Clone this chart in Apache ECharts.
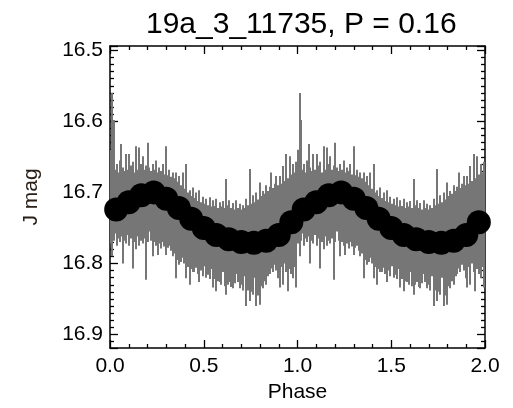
<!DOCTYPE html>
<html>
<head>
<meta charset="utf-8">
<script src="https://cdn.jsdelivr.net/npm/echarts@6/dist/echarts.min.js"></script>
<style>
html,body{margin:0;padding:0;background:#fff;}
#chart{width:513px;height:408px;}
</style>
</head>
<body>
<div id="chart"></div>
<script>
// ---- data (one folded cycle; the plot shows phase 0-1 repeated at 1-2) ----
const titleText = '19a_3_11735, P = 0.16';
const xTicks = [0.0, 0.5, 1.0, 1.5, 2.0];
const yTicks = [16.5, 16.6, 16.7, 16.8, 16.9];

// individual measurements: phase, upper end (bright) and lower end (faint) of error bar, J mag
const obsPhase = [0.004,0.012,0.019,0.027,0.036,0.044,0.052,0.059,0.068,0.077,0.085,0.093,0.103,0.111,0.12,0.129,0.139,0.147,0.157,0.165,0.174,0.182,0.192,0.201,0.21,0.219,0.228,0.237,0.246,0.254,0.263,0.272,0.281,0.29,0.299,0.308,0.317,0.326,0.335,0.344,0.353,0.362,0.37,0.379,0.388,0.397,0.406,0.415,0.424,0.433,0.441,0.45,0.459,0.468,0.477,0.486,0.495,0.504,0.513,0.522,0.531,0.54,0.548,0.557,0.566,0.575,0.584,0.593,0.602,0.611,0.62,0.628,0.637,0.646,0.655,0.664,0.673,0.682,0.691,0.7,0.709,0.718,0.727,0.736,0.744,0.753,0.762,0.771,0.78,0.789,0.798,0.806,0.815,0.824,0.834,0.843,0.852,0.86,0.869,0.878,0.887,0.896,0.905,0.914,0.922,0.931,0.94,0.949,0.958,0.967,0.976,0.985,0.994];
const obsTop = [16.640,16.560,16.598,16.668,16.660,16.672,16.655,16.632,16.665,16.670,16.646,16.668,16.646,16.662,16.657,16.672,16.635,16.668,16.637,16.660,16.649,16.668,16.662,16.630,16.665,16.670,16.660,16.668,16.655,16.672,16.665,16.670,16.660,16.675,16.635,16.676,16.668,16.678,16.672,16.680,16.672,16.685,16.677,16.690,16.672,16.695,16.660,16.700,16.697,16.705,16.693,16.708,16.700,16.712,16.697,16.714,16.706,16.716,16.709,16.718,16.707,16.720,16.711,16.719,16.709,16.722,16.714,16.720,16.712,16.722,16.681,16.718,16.711,16.722,16.715,16.724,16.711,16.722,16.716,16.724,16.718,16.722,16.709,16.718,16.667,16.716,16.704,16.714,16.700,16.710,16.686,16.705,16.698,16.702,16.690,16.698,16.692,16.672,16.694,16.688,16.677,16.690,16.677,16.688,16.663,16.684,16.646,16.680,16.649,16.675,16.660,16.672,16.657];
const obsBottom = [16.772,16.790,16.768,16.758,16.775,16.765,16.770,16.762,16.800,16.768,16.772,16.760,16.775,16.765,16.807,16.770,16.780,16.762,16.775,16.768,16.772,16.765,16.823,16.770,16.755,16.768,16.790,16.770,16.775,16.788,16.772,16.779,16.770,16.776,16.788,16.778,16.775,16.782,16.790,16.786,16.821,16.795,16.802,16.798,16.792,16.800,16.821,16.805,16.830,16.808,16.812,16.812,16.806,16.815,16.826,16.810,16.818,16.804,16.820,16.816,16.822,16.808,16.834,16.822,16.839,16.825,16.826,16.830,16.812,16.832,16.844,16.830,16.826,16.833,16.835,16.828,16.815,16.826,16.835,16.830,16.838,16.818,16.860,16.838,16.853,16.840,16.844,16.820,16.860,16.845,16.858,16.832,16.835,16.825,16.830,16.818,16.815,16.807,16.812,16.802,16.810,16.821,16.834,16.805,16.830,16.800,16.812,16.839,16.808,16.815,16.821,16.805,16.834];

// binned light curve (black dots)
const binPhase = [0.033,0.1,0.167,0.233,0.3,0.367,0.433,0.5,0.567,0.633,0.7,0.767,0.833,0.9,0.967];
const binMag = [16.724,16.714,16.704,16.700,16.709,16.722,16.737,16.750,16.760,16.766,16.770,16.771,16.768,16.760,16.742];

// ---- build series data (phase-folded data drawn twice: phase and phase+1) ----
const cycles = [0, 1];
const barData = [];
const dotData = [];
cycles.forEach(c => {
  obsPhase.forEach((p, i) => barData.push([p + c, obsTop[i], obsBottom[i]]));
  binPhase.forEach((p, i) => dotData.push([p + c, binMag[i]]));
});

const FONT = 'Liberation Sans, Arial, Helvetica, sans-serif';
const fmtX = v => (xTicks.some(t => Math.abs(t - v) < 1e-9) ? v.toFixed(1) : '');
const fmtY = v => (yTicks.some(t => Math.abs(t - v) < 1e-9) ? v.toFixed(1) : '');

function xAx(pos, showLabel) {
  return {
    type: 'value', min: 0, max: 2, interval: 0.5, position: pos,
    axisLine: { show: true, onZero: false, lineStyle: { color: '#000', width: 1.5 } },
    axisTick: { show: true, inside: true, length: 8, lineStyle: { color: '#000', width: 1.3 } },
    minorTick: { show: true, splitNumber: 5, length: 4, lineStyle: { color: '#000', width: 1.3 } },
    splitLine: { show: false }, minorSplitLine: { show: false },
    axisLabel: { show: showLabel, formatter: fmtX, color: '#000', fontSize: 21, fontFamily: FONT, margin: 8 },
    name: showLabel ? 'Phase' : '', nameLocation: 'middle', nameGap: 34,
    nameTextStyle: { color: '#000', fontSize: 21, fontFamily: FONT }
  };
}
function yAx(pos, showLabel) {
  return {
    type: 'value', min: 16.494, max: 16.919, inverse: true, position: pos,
    axisLine: { show: true, onZero: false, lineStyle: { color: '#000', width: 1.5 } },
    axisTick: { show: true, inside: true, length: 8, lineStyle: { color: '#000', width: 1.3 } },
    minorTick: { show: true, splitNumber: 10, length: 4, lineStyle: { color: '#000', width: 1.3 } },
    splitLine: { show: false }, minorSplitLine: { show: false },
    axisLabel: { show: showLabel, formatter: fmtY, color: '#000', fontSize: 21, fontFamily: FONT, margin: 7 },
    name: showLabel ? 'J mag' : '', nameLocation: 'middle', nameGap: 68,
    nameTextStyle: { color: '#2a2018', fontSize: 21, fontFamily: FONT }
  };
}

const chart = echarts.init(document.getElementById('chart'), null, { renderer: 'canvas' });
chart.setOption({
  animation: false,
  backgroundColor: '#fff',
  title: {
    text: titleText, left: 141, top: 5,
    textStyle: { color: '#000', fontSize: 30, fontWeight: 'normal', fontFamily: FONT }
  },
  grid: { left: 110, right: 28, top: 46, bottom: 57, containLabel: false },
  xAxis: [xAx('bottom', true), xAx('top', false)],
  yAxis: [yAx('left', true), yAx('right', false)],
  series: [
    {
      type: 'custom', xAxisIndex: 0, yAxisIndex: 0, data: barData, clip: true,
      renderItem: function (params, api) {
        const a = api.coord([api.value(0), api.value(1)]);
        const b = api.coord([api.value(0), api.value(2)]);
        const x = Math.round(a[0]) - 1;
        return { type: 'rect', shape: { x: x, y: a[1], width: 2, height: b[1] - a[1] },
                 style: { fill: '#767676' } };
      },
      encode: { x: 0, y: [1, 2] }, z: 2
    },
    {
      type: 'scatter', xAxisIndex: 0, yAxisIndex: 0, data: dotData,
      symbol: 'circle', symbolSize: 24, itemStyle: { color: '#000', opacity: 1 }, z: 3
    }
  ]
});
</script>
</body>
</html>
